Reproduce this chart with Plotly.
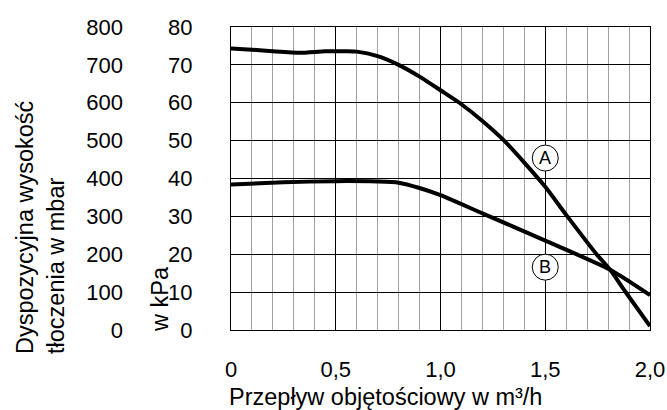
import plotly.graph_objects as go

W, H = 667, 410


def px(x):  # screen x -> paper
    return x / W


def py(y):  # screen y -> paper
    return 1 - y / H


PL, PR, PT, PB = 231, 650, 27, 330

# Data
flow_a = [0, 0.1, 0.2, 0.33, 0.45, 0.55, 0.6, 0.7, 0.8, 0.9, 1.0, 1.09, 1.2, 1.3, 1.4, 1.5, 1.6, 1.745, 1.81, 1.88, 2.0]
head_a = [74.3, 74.0, 73.6, 73.2, 73.6, 73.6, 73.5, 72.3, 70.0, 66.9, 63.3, 60.0, 55.2, 50.2, 44.2, 37.8, 30.4, 20.0, 15.9, 10.3, 1.0]
flow_b = [0, 0.25, 0.5, 0.7, 0.8, 0.9, 1.0, 1.2, 1.5, 1.81, 2.0]
head_b = [38.4, 39.0, 39.3, 39.2, 38.9, 37.5, 35.6, 30.8, 23.6, 15.9, 9.2]
x_ticks = [0, 0.5, 1.0, 1.5, 2.0]
x_tick_labels = ["0", "0,5", "1,0", "1,5", "2,0"]
labels = ["A", "B"]
label_x = [1.5, 1.5]
label_y = [45.4, 16.6]

FONT = "Liberation Sans, Arial, sans-serif"
FS_TICK = 22
FS_TITLE = 23.5
FS_LABEL = 18

fig = go.Figure()
for xs, ys in [(flow_a, head_a), (flow_b, head_b)]:
    fig.add_trace(go.Scatter(x=xs, y=ys, mode="lines",
                             line=dict(color="black", width=4, shape="spline", smoothing=0.6),
                             showlegend=False, hoverinfo="skip"))
# invisible trace on mbar axis
fig.add_trace(go.Scatter(x=[0], y=[0], yaxis="y2", mode="markers",
                         marker=dict(opacity=0), showlegend=False, hoverinfo="skip"))

fig.update_layout(
    width=W, height=H,
    margin=dict(l=0, r=0, t=0, b=0, autoexpand=False),
    paper_bgcolor="white", plot_bgcolor="white",
    font=dict(family=FONT, size=FS_TICK, color="black"),
    separators=",.",
    xaxis=dict(domain=[px(PL), px(PR)], range=[0, 2.0],
               tickvals=x_ticks, ticktext=x_tick_labels,
               tickfont=dict(size=FS_TICK),
               showgrid=True, gridcolor="black", gridwidth=1,
               minor=dict(dtick=0.1, showgrid=True, gridcolor="#a0a0a0", gridwidth=1),
               showline=True, linecolor="black", linewidth=1, mirror=True,
               zeroline=False, ticks="", ticklabelstandoff=20, automargin=False,
               fixedrange=True),
    yaxis=dict(domain=[py(PB), py(PT)], range=[0, 80], dtick=10,
               tickfont=dict(size=FS_TICK),
               showgrid=True, gridcolor="black", gridwidth=1,
               showline=True, linecolor="black", linewidth=1, mirror=True,
               zeroline=False, ticks="", ticklabelstandoff=33, automargin=False,
               fixedrange=True),
    yaxis2=dict(overlaying="y", anchor="free", position=px(123), side="left",
                range=[0, 800], dtick=100, showgrid=False, zeroline=False,
                tickfont=dict(size=FS_TICK),
                showline=False, ticks="", automargin=False, fixedrange=True),
)

for t, lx, ly in zip(labels, label_x, label_y):
    fig.add_shape(type="circle", xref="x", yref="y", xsizemode="pixel", ysizemode="pixel",
                  xanchor=lx, yanchor=ly, x0=-13, x1=13, y0=-13, y1=13,
                  fillcolor="white", line=dict(color="black", width=1), layer="above")
    fig.add_annotation(x=lx, y=ly, xref="x", yref="y", text=t, showarrow=False,
                       font=dict(size=FS_LABEL, family=FONT))

fig.add_annotation(text="Dyspozycyjna wysokość<br>tłoczenia w mbar", xref="paper", yref="paper",
                   x=px(40), y=py(356), xanchor="center", yanchor="bottom",
                   textangle=-90, align="left", showarrow=False, font=dict(size=FS_TITLE))
fig.add_annotation(text="w kPa", xref="paper", yref="paper",
                   x=px(160), y=py(334), xanchor="center", yanchor="bottom",
                   textangle=-90, showarrow=False, font=dict(size=FS_TITLE))
fig.add_annotation(text="Przepływ objętościowy w m³/h", xref="paper", yref="paper",
                   x=px(227), y=py(397), xanchor="left", yanchor="middle",
                   showarrow=False, font=dict(size=FS_TITLE))

fig.write_html(
    "out.html",
    config={"displayModeBar": False},
    post_script="document.body.style.margin='0';document.body.style.overflow='hidden';"
)
